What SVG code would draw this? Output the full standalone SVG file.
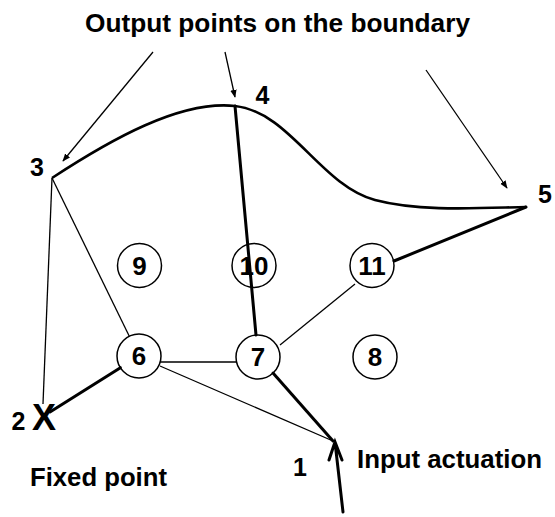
<svg xmlns="http://www.w3.org/2000/svg" width="555" height="517" viewBox="0 0 555 517">
<style>
.t{font-family:"Liberation Sans",Arial,Helvetica,sans-serif;fill:#000}
.b{font-weight:bold}
.thin{stroke:#000;stroke-width:1.3;fill:none}
.thick{stroke:#000;stroke-width:3;fill:none;stroke-linecap:round}
.curve{stroke:#000;stroke-width:2.6;fill:none}
.nd circle{fill:none;stroke:#000;stroke-width:1.5}
.nd text{font-family:"Liberation Sans",Arial,Helvetica,sans-serif;font-weight:bold;font-size:26px;text-anchor:middle}
.lbl{font-family:"Liberation Sans",Arial,Helvetica,sans-serif;font-weight:bold;font-size:25px;text-anchor:middle}
</style>
<defs>
<marker id="ah" viewBox="0 0 10 10" refX="9" refY="5" markerWidth="8" markerHeight="8" markerUnits="userSpaceOnUse" orient="auto">
<path d="M0,1 L10,5 L0,9 Z" fill="#000"/>
</marker>
</defs>
<rect width="555" height="517" fill="#fff"/>
<text class="t b" x="277.5" y="32" font-size="26" text-anchor="middle" textLength="385" lengthAdjust="spacingAndGlyphs">Output points on the boundary</text>
<g id="connectors">
<path class="curve" d="M52,178 C110,140 180,100 235,106 C290,112 320,185 375,200 C420,212 480,208 526,207"/>
<line class="thin" x1="153" y1="52" x2="63" y2="161" marker-end="url(#ah)"/>
<line class="thin" x1="225" y1="52" x2="235" y2="97" marker-end="url(#ah)"/>
<line class="thin" x1="426" y1="70" x2="507" y2="188" marker-end="url(#ah)"/>
<line class="thin" x1="52" y1="178" x2="43" y2="404"/>
<line class="thin" x1="52" y1="178" x2="129.3" y2="336.2"/>
<line class="thick" x1="235" y1="106" x2="256" y2="335"/>
<line class="thick" x1="120.4" y1="367.7" x2="50" y2="412"/>
<line class="thin" x1="160.2" y1="362" x2="236.8" y2="362"/>
<line class="thin" x1="160" y1="366" x2="333" y2="441"/>
<line class="thick" x1="273" y1="373" x2="333" y2="441"/>
<line class="thin" x1="280" y1="345" x2="355" y2="284"/>
<line class="thick" x1="394" y1="261" x2="526" y2="207"/>
<path class="thick" d="M343,512 L335,442 M329,460 L335,442 L342,460"/>
</g>
<g id="n1"><text class="t b" x="300" y="476" font-size="25" text-anchor="middle">1</text></g>
<g id="n2"><text class="t b" x="18.5" y="430" font-size="25" text-anchor="middle">2</text><text class="t b" x="44" y="430" font-size="36" text-anchor="middle">X</text></g>
<g id="n3"><text class="lbl" x="37" y="176">3</text></g>
<g id="n4"><text class="lbl" x="262.5" y="104">4</text></g>
<g id="n5"><text class="lbl" x="545" y="203">5</text></g>
<g id="n6" class="nd"><circle cx="139" cy="356" r="22"/><text x="139" y="365.3">6</text></g>
<g id="n7" class="nd"><circle cx="258" cy="357" r="22"/><text x="258" y="366.3">7</text></g>
<g id="n8" class="nd"><circle cx="375" cy="357" r="22"/><text x="375" y="366.3">8</text></g>
<g id="n9" class="nd"><circle cx="139.5" cy="265.5" r="22"/><text x="139.5" y="274.8">9</text></g>
<g id="n10" class="nd"><circle cx="254" cy="265.5" r="22"/><text x="254" y="274.8">10</text></g>
<g id="n11" class="nd"><circle cx="372" cy="265.5" r="22"/><text x="372" y="274.8">11</text></g>
<text class="t b" x="30" y="486" font-size="26" textLength="137" lengthAdjust="spacingAndGlyphs">Fixed point</text>
<text class="t b" x="357" y="468" font-size="26" textLength="185" lengthAdjust="spacingAndGlyphs">Input actuation</text>
</svg>
